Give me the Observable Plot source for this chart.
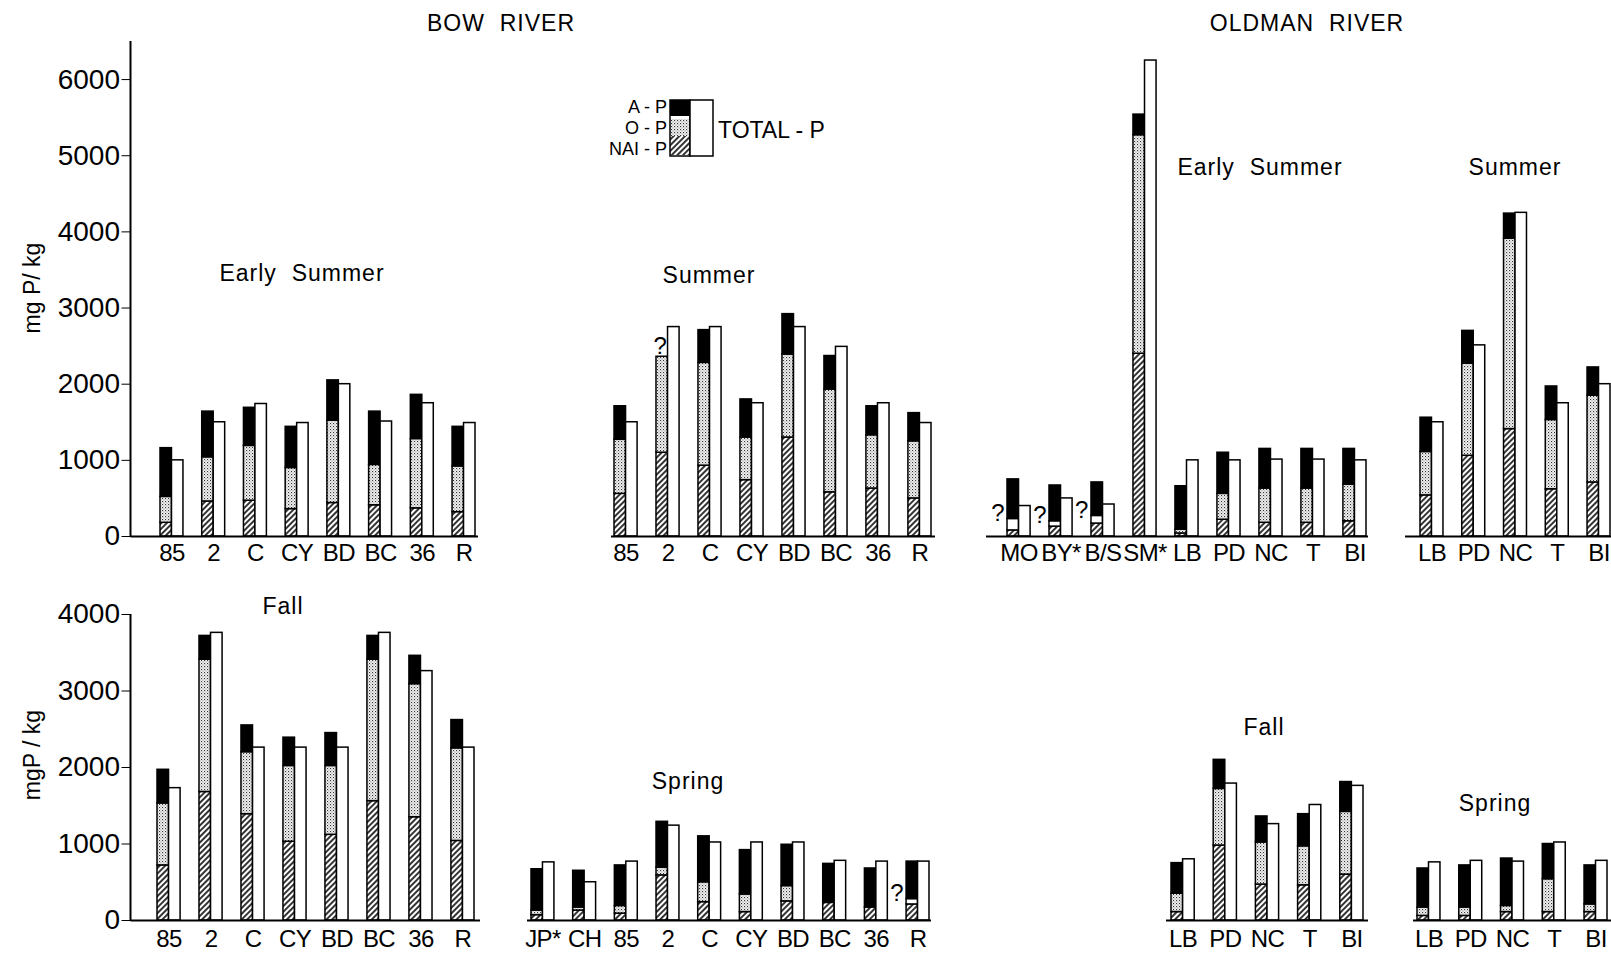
<!DOCTYPE html>
<html><head><meta charset="utf-8">
<script src="https://cdn.jsdelivr.net/npm/d3@7"></script>
<script src="https://cdn.jsdelivr.net/npm/@observablehq/plot@0.6"></script>
<style>
html,body{margin:0;padding:0;background:#fff;}
body{width:1611px;height:953px;position:relative;overflow:hidden;font-family:"Liberation Sans",Arial,sans-serif;color:#000;}
.lbl{position:absolute;transform:translate(-50%,-50%);white-space:pre;font-size:23px;letter-spacing:1px;}
.ylab{position:absolute;transform:translate(-50%,-50%) rotate(-90deg);white-space:pre;font-size:23px;}
</style></head><body>
<svg width="0" height="0" style="position:absolute">
<defs>
<pattern id="hatch" width="4" height="4" patternUnits="userSpaceOnUse" patternTransform="rotate(45)">
<rect width="4" height="4" fill="white"/><line x1="1" y1="0" x2="1" y2="4" stroke="black" stroke-width="1.6"/>
</pattern>
<pattern id="dots" width="3" height="3" patternUnits="userSpaceOnUse">
<rect width="3" height="3" fill="#f2f2f2"/><rect x="0" y="0" width="1.1" height="1.1" fill="#333"/><rect x="1.5" y="1.5" width="1" height="1" fill="#777"/>
</pattern>
</defs>
</svg>
<script>
// ---------- DATA (mg P / kg) ----------
// Bow River, Early Summer
const bowESCats  = ["85","2","C","CY","BD","BC","36","R"];
const bowESNai   = [180, 460, 470, 360, 440, 410, 370, 320];
const bowESOp    = [340, 580, 720, 540,1080, 530, 910, 600];
const bowESAp    = [640, 600, 500, 540, 530, 700, 580, 520];
const bowESTotal = [1000,1500,1740,1490,2000,1510,1750,1490];
// Bow River, Summer
const bowSuCats  = ["85","2","C","CY","BD","BC","36","R"];
const bowSuNai   = [560,1100, 930, 740,1300, 580, 630, 500];
const bowSuOp    = [710,1260,1350, 560,1090,1350, 700, 750];
const bowSuAp    = [440,   0, 430, 500, 530, 440, 380, 370];
const bowSuTotal = [1500,2750,2750,1750,2750,2490,1750,1490];
const bowSuQuery = ["2"];
// Oldman River, Early Summer
const oldESCats  = ["MO","BY*","B/S","SM*","LB","PD","NC","T","BI"];
const oldESNai   = [ 80, 130, 170,2400,  40, 220, 180, 180, 200];
const oldESOp    = [150,  70, 100,2870,  50, 340, 450, 450, 480];
const oldESAp    = [520, 470, 440, 270, 570, 540, 520, 520, 470];
const oldESTotal = [400, 500, 420,6250,1000,1000,1010,1010,1000];
const oldESUnknownOp = ["MO","BY*","B/S"];
const oldESQuery = ["MO","BY*","B/S"];
// Oldman River, Summer
const oldSuCats  = ["LB","PD","NC","T","BI"];
const oldSuNai   = [540,1060,1410, 620, 710];
const oldSuOp    = [570,1210,2500, 910,1140];
const oldSuAp    = [450, 430, 330, 440, 370];
const oldSuTotal = [1500,2510,4250,1750,2000];
// Bow River, Fall
const bowFaCats  = ["85","2","C","CY","BD","BC","36","R"];
const bowFaNai   = [720,1680,1390,1030,1120,1560,1350,1040];
const bowFaOp    = [810,1730, 810, 990, 900,1850,1740,1210];
const bowFaAp    = [440, 310, 350, 370, 430, 310, 370, 370];
const bowFaTotal = [1730,3760,2260,2260,2260,3760,3260,2260];
// Bow River, Spring
const bowSpCats  = ["JP*","CH","85","2","C","CY","BD","BC","36","R"];
const bowSpNai   = [ 70, 130,  90, 590, 240, 110, 250, 230, 170, 210];
const bowSpOp    = [ 60,  40, 100, 100, 260, 230, 200,   0,   0,  70];
const bowSpAp    = [540, 480, 530, 600, 600, 580, 540, 510, 510, 490];
const bowSpTotal = [760, 500, 770,1240,1020,1020,1020, 780, 770, 770];
const bowSpUnknownOp = ["R"];
const bowSpQuery = ["R"];
// Oldman River, Fall
const oldFaCats  = ["LB","PD","NC","T","BI"];
const oldFaNai   = [110, 980, 470, 460, 600];
const oldFaOp    = [240, 740, 550, 510, 820];
const oldFaAp    = [400, 380, 340, 420, 390];
const oldFaTotal = [800,1790,1260,1510,1760];
// Oldman River, Spring
const oldSpCats  = ["LB","PD","NC","T","BI"];
const oldSpNai   = [ 60,  60, 110, 110, 110];
const oldSpOp    = [110, 110,  80, 430, 100];
const oldSpAp    = [510, 550, 620, 460, 510];
const oldSpTotal = [760, 780, 770,1020, 780];

const topTicks = [0,1000,2000,3000,4000,5000,6000];
const bottomTicks = [0,1000,2000,3000,4000];

// ---------- LAYOUT ----------
const W = 1611, PAD = 0.45;
const rows = {
  top:    {top: 21,  mt: 20, height: 560, mb: 45, domain: [0, 6500], ticks: topTicks, tickPad: 7},
  bottom: {top: 594, mt: 20, height: 359, mb: 33, domain: [0, 4000], ticks: bottomTicks, tickPad: 9}
};

function panel(o) {
  const row = rows[o.row];
  const bw = d3.scaleBand().domain(o.cats).range(o.range).paddingInner(PAD).paddingOuter(0).bandwidth();
  const unknown = o.unknown || [];
  const stack = [];
  o.cats.forEach((c, i) => {
    stack.push({cat: c, part: "NAI-P", v: o.nai[i], fill: "url(#hatch)"});
    stack.push({cat: c, part: "O-P", v: o.op[i], fill: unknown.includes(c) ? "white" : "url(#dots)"});
    stack.push({cat: c, part: "A-P", v: o.ap[i], fill: "black"});
  });
  const tot = o.cats.map((c, i) => ({cat: c, v: o.total[i]}));
  const qs = (o.q || []).map(c => {
    const i = o.cats.indexOf(c);
    return {cat: c, v: o.nai[i] + o.op[i]};
  });
  const marks = [
    Plot.barY(stack, Plot.stackY({x: "cat", y: "v", z: "part", fill: "fill", stroke: "black", strokeWidth: 1.5, insetRight: bw / 2})),
    Plot.barY(tot, {x: "cat", y: "v", fill: "white", stroke: "black", strokeWidth: 1.5, insetLeft: bw / 2}),
    Plot.ruleY([0], {stroke: "black", strokeWidth: 2})
  ];
  if (qs.length) {
    if (o.qMode === "above") {
      marks.push(Plot.text(qs, {x: "cat", y: "v", text: () => "?", dx: -bw / 4 - 2, dy: -3, lineAnchor: "bottom", fontSize: 24}));
    } else {
      marks.push(Plot.text(qs, {x: "cat", y: "v", text: () => "?", dx: -bw / 2 - 3, dy: -6, textAnchor: "end", lineAnchor: "middle", fontSize: 24}));
    }
  }
  const fig = Plot.plot({
    width: W, height: row.height,
    marginTop: row.mt, marginBottom: row.mb,
    marginLeft: o.base[0], marginRight: W - o.base[1],
    x: {domain: o.cats, range: o.range, paddingInner: PAD, paddingOuter: 0, round: false,
        tickSize: 0, tickPadding: row.tickPad, label: null},
    y: o.showY
      ? {domain: row.domain, ticks: row.ticks, tickSize: 9, tickPadding: 2, tickFormat: d3.format("d"), label: null}
      : {domain: row.domain, axis: null},
    color: {type: "identity"},
    style: {fontSize: "24px", fontFamily: "'Liberation Sans', Arial, sans-serif", color: "black", background: "transparent"},
    marks
  });
  fig.style.position = "absolute";
  fig.style.left = "0px";
  fig.style.top = row.top + "px";
  const s = d3.select(fig);
  s.selectAll('[aria-label^="x-axis"] text').style("font-size", "24px").style("letter-spacing", "-0.6px");
  if (o.showY) {
    s.selectAll('[aria-label^="y-axis"] text').style("font-size", "28px");
    const ys = fig.scale("y");
    s.append("line")
      .attr("x1", o.base[0]).attr("x2", o.base[0])
      .attr("y1", ys.range[0] + 1).attr("y2", ys.range[1])
      .attr("stroke", "black").attr("stroke-width", 2);
  }
  document.body.appendChild(fig);
}

panel({row: "top", cats: bowESCats, nai: bowESNai, op: bowESOp, ap: bowESAp, total: bowESTotal,
       base: [130.5, 478], range: [160, 475], showY: true});
panel({row: "top", cats: bowSuCats, nai: bowSuNai, op: bowSuOp, ap: bowSuAp, total: bowSuTotal,
       base: [611, 935], range: [614, 931], q: bowSuQuery, qMode: "above"});
panel({row: "top", cats: oldESCats, nai: oldESNai, op: oldESOp, ap: oldESAp, total: oldESTotal,
       base: [986, 1368], range: [1007, 1366], unknown: oldESUnknownOp, q: oldESQuery, qMode: "left"});
panel({row: "top", cats: oldSuCats, nai: oldSuNai, op: oldSuOp, ap: oldSuAp, total: oldSuTotal,
       base: [1405, 1611], range: [1420, 1610]});
panel({row: "bottom", cats: bowFaCats, nai: bowFaNai, op: bowFaOp, ap: bowFaAp, total: bowFaTotal,
       base: [130.5, 480], range: [157, 474], showY: true});
panel({row: "bottom", cats: bowSpCats, nai: bowSpNai, op: bowSpOp, ap: bowSpAp, total: bowSpTotal,
       base: [527, 931], range: [531, 929], unknown: bowSpUnknownOp, q: bowSpQuery, qMode: "left"});
panel({row: "bottom", cats: oldFaCats, nai: oldFaNai, op: oldFaOp, ap: oldFaAp, total: oldFaTotal,
       base: [1166, 1368], range: [1171, 1363]});
panel({row: "bottom", cats: oldSpCats, nai: oldSpNai, op: oldSpOp, ap: oldSpAp, total: oldSpTotal,
       base: [1413, 1611], range: [1417, 1607]});

// ---------- TEXT LABELS ----------
const labels = [
  ["BOW  RIVER", 501, 23], ["OLDMAN  RIVER", 1307, 23],
  ["Early  Summer", 302, 273], ["Summer", 709, 275],
  ["Early  Summer", 1260, 167], ["Summer", 1515, 167],
  ["Fall", 283, 606], ["Spring", 688, 781],
  ["Fall", 1264, 727], ["Spring", 1495, 803]
];
labels.forEach(([t, x, y]) => {
  const d = document.createElement("div");
  d.className = "lbl"; d.textContent = t;
  d.style.left = x + "px"; d.style.top = y + "px";
  document.body.appendChild(d);
});
[["mg P/ kg", 32, 288], ["mgP / kg", 32, 755]].forEach(([t, x, y]) => {
  const d = document.createElement("div");
  d.className = "ylab"; d.textContent = t;
  d.style.left = x + "px"; d.style.top = y + "px";
  document.body.appendChild(d);
});

// ---------- LEGEND ----------
const leg = d3.select(document.body).append("svg")
  .attr("width", 300).attr("height", 80)
  .style("position", "absolute").style("left", "560px").style("top", "90px")
  .style("font-family", "'Liberation Sans', Arial, sans-serif");
const legParts = [["A - P", "black", 10, 16, 17], ["O - P", "url(#dots)", 29, 17, 38], ["NAI - P", "url(#hatch)", 46, 19, 59]];
legParts.forEach(([t, f, y, h, ty]) => {
  leg.append("rect").attr("x", 110).attr("y", y).attr("width", 20).attr("height", h).attr("fill", f);
  leg.append("text").attr("x", 107).attr("y", ty).attr("text-anchor", "end").attr("font-size", 18).attr("dominant-baseline", "central").text(t);
});
leg.append("rect").attr("x", 110).attr("y", 10).attr("width", 20).attr("height", 56).attr("fill", "none").attr("stroke", "black").attr("stroke-width", 1.5);
leg.append("rect").attr("x", 130).attr("y", 10).attr("width", 23).attr("height", 56).attr("fill", "white").attr("stroke", "black").attr("stroke-width", 1.5);
leg.append("text").attr("x", 158).attr("y", 40).attr("font-size", 23).attr("dominant-baseline", "central").text("TOTAL - P");
</script>
</body></html>
